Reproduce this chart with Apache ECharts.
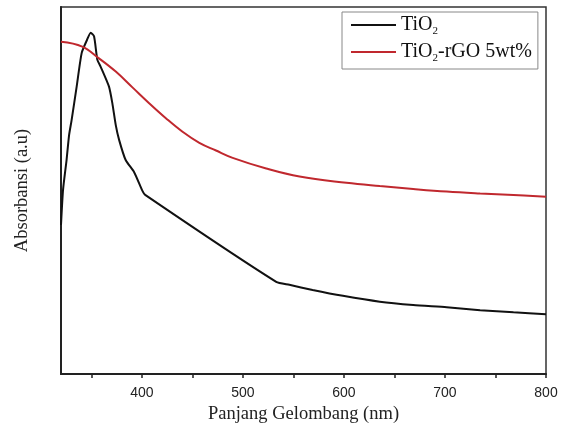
<!DOCTYPE html>
<html>
<head>
<meta charset="utf-8">
<script src="https://cdn.jsdelivr.net/npm/echarts@6/dist/echarts.min.js"></script>
<style>
  html, body { margin: 0; padding: 0; background: #fff; }
  #chart { width: 561px; height: 433px; }
</style>
</head>
<body>
<div id="chart"></div>
<script>
/* data */
var seriesNames = ['TiO2', 'TiO2-rGO 5wt%'];

var nmTiO2 = [320, 322, 325.5, 328, 330.5, 335.5, 340.5, 345.7, 349.4, 352.7, 356, 359.3, 367.5, 370.8, 374.2, 377.5, 384, 392.4, 400.6, 403.3, 533, 546, 569, 599, 635.5, 668.6, 701.7, 734.8, 767.8, 800];
var absTiO2 = [40.6, 50.1, 58.3, 65.1, 69.2, 78.3, 87.5, 91.0, 93.0, 92.0, 85.6, 83.7, 78.3, 73.8, 67.8, 63.8, 58.3, 55.0, 49.9, 48.8, 25.1, 24.3, 22.9, 21.3, 19.7, 18.8, 18.2, 17.4, 16.8, 16.3];

var nmRGO = [320, 341, 357.6, 374.2, 390.7, 407.2, 423.8, 440.3, 456.9, 473.4, 489.9, 523.1, 556.1, 602.5, 635.5, 668.6, 701.7, 734.8, 767.8, 800];
var absRGO = [90.5, 89.2, 86.0, 82.4, 78.1, 73.8, 69.7, 66.0, 63.0, 60.9, 58.9, 56.0, 53.8, 52.1, 51.2, 50.4, 49.7, 49.2, 48.8, 48.3];

var xLabels = [400, 500, 600, 700, 800];
var xTicks = [350, 400, 450, 500, 550, 600, 650, 700, 750, 800];

function pairs(xs, ys) {
    var out = [];
    for (var i = 0; i < xs.length; i++) {
        out.push([xs[i], ys[i]]);
    }
    return out;
}

var serif = "'Liberation Serif', 'Times New Roman', serif";

var chart = echarts.init(document.getElementById('chart'));
chart.setOption({
    animation: false,
    grid: {
        left: 61,
        right: 15,
        top: 7,
        bottom: 59,
        show: true,
        borderColor: '#333',
        borderWidth: 1.5
    },
    legend: {
        orient: 'vertical',
        left: 342,
        top: 12,
        padding: [1, 6, 5, 9],
        itemGap: 3,
        icon: 'rect',
        itemWidth: 45,
        itemHeight: 2,
        borderColor: '#888',
        borderWidth: 1,
        backgroundColor: '#fff',
        data: seriesNames,
        formatter: function (name) {
            return name.replace('TiO2', '{a|TiO}{sub|2}').replace('-rGO 5wt%', '{a|-rGO 5wt%}');
        },
        textStyle: {
            fontFamily: serif,
            color: '#111',
            rich: {
                a: { fontFamily: serif, fontSize: 20, color: '#111', lineHeight: 23 },
                sub: { fontFamily: serif, fontSize: 11, color: '#111', lineHeight: 11, padding: [13, 0, 0, 0] }
            }
        }
    },
    xAxis: {
        type: 'value',
        min: 320,
        max: 800,
        name: 'Panjang Gelombang (nm)',
        nameLocation: 'middle',
        nameGap: 30,
        nameTextStyle: { fontFamily: serif, fontSize: 18.5, color: '#222' },
        axisLine: { lineStyle: { color: '#222', width: 2 } },
        axisTick: {
            show: true,
            customValues: xTicks,
            length: 4,
            lineStyle: { color: '#222', width: 1.5 }
        },
        axisLabel: {
            customValues: xLabels,
            margin: 12,
            fontFamily: "'Liberation Sans', Arial, sans-serif",
            fontSize: 14,
            color: '#222'
        },
        splitLine: { show: false }
    },
    yAxis: {
        type: 'value',
        min: 0,
        max: 100,
        name: 'Absorbansi (a.u)',
        nameLocation: 'middle',
        nameGap: 29,
        nameTextStyle: { fontFamily: serif, fontSize: 18.5, color: '#222' },
        axisLine: { show: true, lineStyle: { color: '#222', width: 2 } },
        axisTick: { show: false },
        axisLabel: { show: false },
        splitLine: { show: false }
    },
    series: [
        {
            name: seriesNames[0],
            type: 'line',
            symbol: 'none',
            smooth: 0.2,
            lineStyle: { color: '#111', width: 2 },
            itemStyle: { color: '#111' },
            data: pairs(nmTiO2, absTiO2)
        },
        {
            name: seriesNames[1],
            type: 'line',
            symbol: 'none',
            smooth: 0.4,
            lineStyle: { color: '#c0282e', width: 2 },
            itemStyle: { color: '#c0282e' },
            data: pairs(nmRGO, absRGO)
        }
    ]
});
</script>
</body>
</html>
